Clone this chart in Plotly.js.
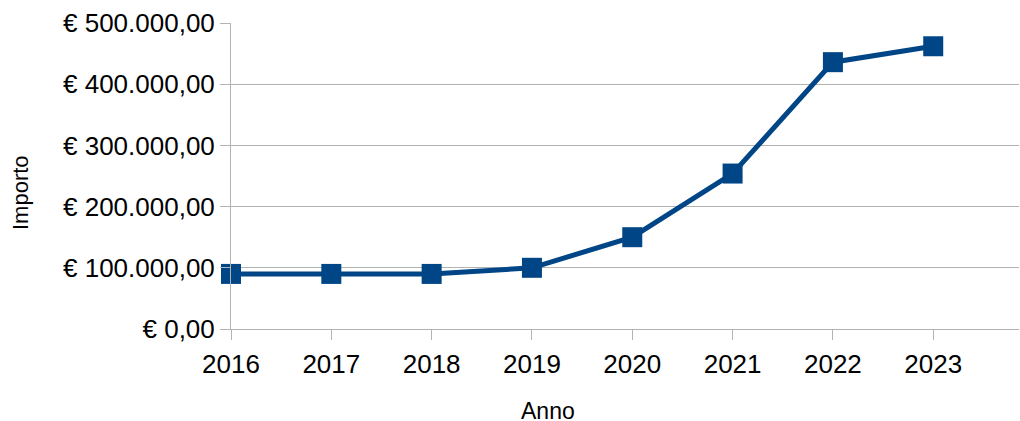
<!DOCTYPE html>
<html>
<head>
<meta charset="utf-8">
<script src="https://cdn.plot.ly/plotly-3.0.1.min.js"></script>
<style>html,body{margin:0;padding:0;background:#fff;}#chart{width:1020px;height:421px;}</style>
</head>
<body>
<div id="chart"></div>
<script>
const years = [2016, 2017, 2018, 2019, 2020, 2021, 2022, 2023];
const importo = [90000, 90000, 90000, 100000, 150000, 254000, 436000, 462000];
const yTickVals = [0, 100000, 200000, 300000, 400000, 500000];
const yTickText = ["€ 0,00", "€ 100.000,00", "€ 200.000,00", "€ 300.000,00", "€ 400.000,00", "€ 500.000,00"];
const xTitle = "Anno";
const yTitle = "Importo";

const FONT = "Liberation Sans, Arial, sans-serif";
const GRID = "#b3b3b3";

const trace = {
  x: years,
  y: importo,
  type: "scatter",
  mode: "lines+markers",
  line: {color: "#004586", width: 5},
  marker: {symbol: "square", size: 20, color: "#004586"},
  hoverinfo: "skip",
  cliponaxis: false
};

const layout = {
  width: 1020,
  height: 421,
  margin: {l: 231, r: 1, t: 23, b: 92, pad: 0},
  paper_bgcolor: "#ffffff",
  plot_bgcolor: "#ffffff",
  showlegend: false,
  font: {family: FONT, color: "#000000", size: 26},
  xaxis: {
    range: [2016, 2023.855],
    tickvals: years,
    ticktext: years.map(String),
    ticks: "outside",
    ticklen: 10,
    tickcolor: GRID,
    tickwidth: 1,
    ticklabelstandoff: 2,
    showgrid: false,
    zeroline: false,
    showline: true,
    linecolor: GRID,
    linewidth: 1,
    tickfont: {family: FONT, size: 26, color: "#000"},
    fixedrange: true
  },
  yaxis: {
    range: [0, 500000],
    tickvals: yTickVals,
    ticktext: yTickText,
    ticks: "outside",
    ticklen: 10,
    tickcolor: GRID,
    tickwidth: 1,
    showgrid: true,
    gridcolor: GRID,
    gridwidth: 1,
    zeroline: false,
    showline: true,
    linecolor: GRID,
    linewidth: 1,
    tickfont: {family: FONT, size: 26, color: "#000"},
    fixedrange: true
  },
  annotations: [
    {text: xTitle, xref: "paper", yref: "paper", x: (548 - 231) / 788, y: 0, yshift: -67,
     xanchor: "center", yanchor: "top", showarrow: false,
     font: {family: FONT, size: 23, color: "#000"}},
    {text: yTitle, xref: "paper", yref: "paper", x: 0, xshift: -211, y: (329 - 193) / 306,
     xanchor: "center", yanchor: "middle", textangle: -90, showarrow: false,
     font: {family: FONT, size: 22, color: "#000"}}
  ]
};

Plotly.newPlot("chart", [trace], layout, {displayModeBar: false, staticPlot: true});
</script>
</body>
</html>
